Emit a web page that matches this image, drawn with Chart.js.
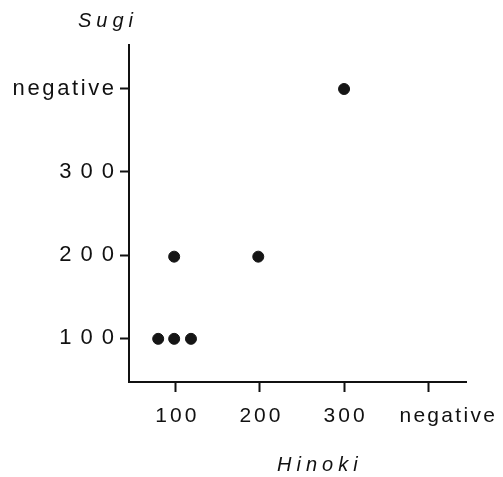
<!DOCTYPE html>
<html>
<head>
<meta charset="utf-8">
<script src="https://cdn.jsdelivr.net/npm/chart.js@4/dist/chart.umd.min.js"></script>
<style>
  html, body { margin: 0; padding: 0; background: #fff; }
  #wrap { width: 503px; height: 477px; }
</style>
</head>
<body>
<div id="wrap"><canvas id="c" width="503" height="477"></canvas></div>
<script>
// ---- data ----
const xTitle = 'Hinoki';
const yTitle = 'Sugi';
const tickValues = [100, 200, 300, 400];
const tickLabels = ['100', '200', '300', 'negative']; // 400 stands for "negative"
const hinokiValues = [79, 98, 118, 98, 198, 300];
const sugiValues   = [99, 99, 99, 198, 198, 400];

const FONT = '"Liberation Sans", Arial, sans-serif';

function labelFor(v) {
  const i = tickValues.indexOf(v);
  return i >= 0 ? tickLabels[i] : '';
}

function spacedLabels(axisId, spacingFn, shiftFn) {
  return function (chart) {
    const s = chart.scales[axisId];
    if (!s || s._spacedWrapped) return;
    s._spacedWrapped = true;
    s.drawLabels = function () {
      const ctx = this.ctx;
      const items = this.getLabelItems();
      for (const item of items) {
        const o = item.options;
        const lbl = String(item.label);
        const sp = spacingFn(lbl);
        ctx.save();
        ctx.font = item.font.string;
        ctx.fillStyle = o.color;
        ctx.textAlign = o.textAlign;
        ctx.textBaseline = o.textBaseline;
        ctx.letterSpacing = sp + 'px';
        let x = o.translation[0] + shiftFn(lbl);
        if (o.textAlign === 'right') x += sp;
        else if (o.textAlign === 'center') x += sp / 2;
        ctx.fillText(lbl, x, o.translation[1] + (item.textOffset || 0));
        ctx.restore();
      }
    };
  };
}

const spacingPlugin = {
  id: 'spacing',
  afterUpdate(chart) {
    spacedLabels('x', l => l === 'negative' ? 2.3 : 3, l => l === 'negative' ? 19 : 0)(chart);
    spacedLabels('y', l => l === 'negative' ? 2.6 : 9, l => 0)(chart);
  }
};

const titlePlugin = {
  id: 'axisTitles',
  afterDraw(chart) {
    const ctx = chart.ctx;
    ctx.save();
    ctx.fillStyle = '#111';
    ctx.font = 'italic 20px ' + FONT;
    ctx.textBaseline = 'alphabetic';
    ctx.textAlign = 'left';
    ctx.letterSpacing = '5px';
    ctx.fillText(yTitle, 78, 27);
    ctx.fillText(xTitle, 277, 471);
    ctx.restore();
  }
};

new Chart(document.getElementById('c'), {
  type: 'scatter',
  data: {
    datasets: [{
      data: hinokiValues.map((x, i) => ({ x: x, y: sugiValues[i] })),
      backgroundColor: '#151515',
      borderColor: '#151515',
      pointRadius: 5.5,
      pointHoverRadius: 5.5
    }]
  },
  options: {
    responsive: false,
    devicePixelRatio: 1,
    animation: false,
    events: [],
    layout: { padding: { top: 45, right: 37, left: 0, bottom: 0 } },
    plugins: { legend: { display: false }, tooltip: { enabled: false } },
    scales: {
      x: {
        type: 'linear',
        min: 44.3,
        max: 445,
        afterBuildTicks(scale) { scale.ticks = tickValues.map(v => ({ value: v })); },
        afterFit(scale) { scale.height = 95; },
        border: { display: true, color: '#111', width: 2 },
        grid: { drawOnChartArea: false, drawTicks: true, tickLength: 10, color: '#111', tickWidth: 2 },
        ticks: {
          autoSkip: false,
          maxRotation: 0,
          padding: 12,
          color: '#111',
          font: { family: FONT, size: 21 },
          callback: v => labelFor(v)
        }
      },
      y: {
        type: 'linear',
        min: 47,
        max: 453,
        afterBuildTicks(scale) { scale.ticks = tickValues.map(v => ({ value: v })); },
        afterFit(scale) { scale.width = 129; },
        border: { display: true, color: '#111', width: 2 },
        grid: { drawOnChartArea: false, drawTicks: true, tickLength: 9, color: '#111', tickWidth: 2 },
        ticks: {
          autoSkip: false,
          padding: 6,
          color: '#111',
          font: { family: FONT, size: 22 },
          callback: v => labelFor(v)
        }
      }
    }
  },
  plugins: [spacingPlugin, titlePlugin]
});
</script>
</body>
</html>
